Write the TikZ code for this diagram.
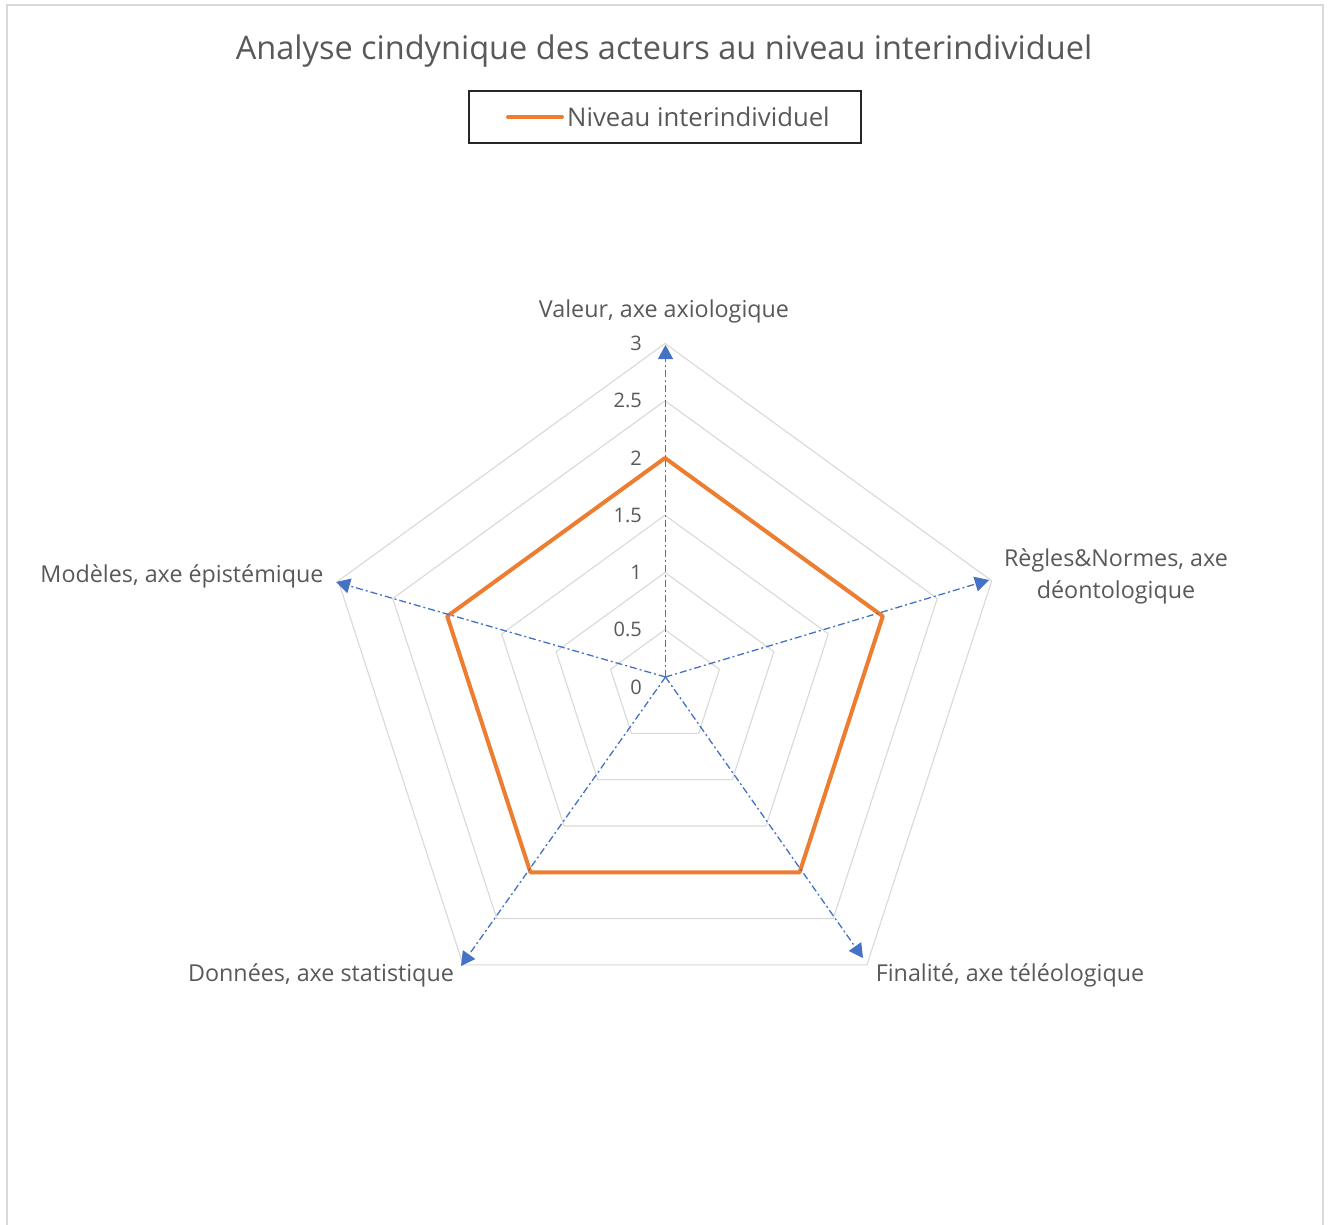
\documentclass[tikz,border=0pt]{standalone}
\usepackage{fontspec}
\setmainfont{Open Sans}
\usetikzlibrary{arrows.meta}
\definecolor{txtgrey}{HTML}{595959}
\definecolor{gridgrey}{HTML}{D9D9D9}
\definecolor{serieorange}{HTML}{ED7D31}
\definecolor{axisblue}{HTML}{4472C4}
\tikzset{
  gridring/.style={draw=gridgrey, line width=1.1pt},
  serie/.style={draw=serieorange, line width=4pt, line join=round},
  axisarrow/.style={draw=axisblue, line width=1.3pt, dash pattern=on 7pt off 3pt on 2pt off 3pt,
    -{Triangle[length=14pt,width=15pt]}},
  catlabel/.style={text=txtgrey, font=\fontsize{23.3}{32}\selectfont, inner sep=0pt},
  ticklabel/.style={text=txtgrey, font=\fontsize{20}{22}\selectfont, inner sep=0pt, anchor=east},
}
\begin{document}
\begin{tikzpicture}[x=1pt,y=-1pt]
\useasboundingbox (0,0) rectangle (1331,1224);
\fill[white] (0,0) rectangle (1331,1224);
% chart area frame
\draw[gridgrey, line width=2pt] (7,1226) -- (7,5) -- (1323,5) -- (1323,1226);

% title and legend
\node[text=txtgrey, font=\fontsize{32.5}{38}\selectfont, inner sep=0pt] (title) at (664,51)
  {Analyse cindynique des acteurs au niveau interindividuel};
\node[draw=black!85, line width=1.2pt, minimum width=392pt, minimum height=52pt, inner sep=0pt] (legend) at (665,117) {};
\coordinate (legA) at (508,117);
\coordinate (legB) at (562,117);
\draw[serieorange, line width=4pt, line cap=round] (legA) -- (legB);
\node[text=txtgrey, font=\fontsize{25.7}{30}\selectfont, inner sep=0pt, anchor=west] (legtext) at (567,117) {Niveau interindividuel};

% radar grid: rings every 0.5, 114.5 units per 1
\begin{scope}[shift={(665,687)}]
  \foreach \v in {0.5,1,...,3}{
    \draw[gridring] (-90:{\v*114.5}) \foreach \a in {-18,54,126,198}{ -- (\a:{\v*114.5})} -- cycle;
  }
  % series: all five values equal 2
  \draw[serie] (-90:229) -- (-18:229) -- (54:229) -- (126:229) -- (198:229) -- cycle;
\end{scope}

% tick labels
\foreach \v/\t in {0/0,0.5/0.5,1/1,1.5/1.5,2/2,2.5/2.5,3/3}{
  \node[ticklabel] (tick\v) at (642,{687-\v*114.5}) {\t};
}

% axis arrows
\coordinate (O) at (665.5,677);
\coordinate (tipV) at (665.5,345);
\coordinate (tipR) at (989,580);
\coordinate (tipF) at (863,958);
\coordinate (tipD) at (461,966);
\coordinate (tipM) at (336,582);
\foreach \t in {tipV,tipR,tipF,tipD,tipM}{
  \draw[axisarrow] (O) -- (\t);
}

% category labels
\node[catlabel] (labV) at (664,311) {Valeur, axe axiologique};
\node[catlabel, align=center] (labR) at (1116,576) {Règles\&Normes, axe\\déontologique};
\node[catlabel] (labF) at (1010,975) {Finalité, axe téléologique};
\node[catlabel] (labD) at (321,975) {Données, axe statistique};
\node[catlabel] (labM) at (182,576) {Modèles, axe épistémique};
\end{tikzpicture}
\end{document}
